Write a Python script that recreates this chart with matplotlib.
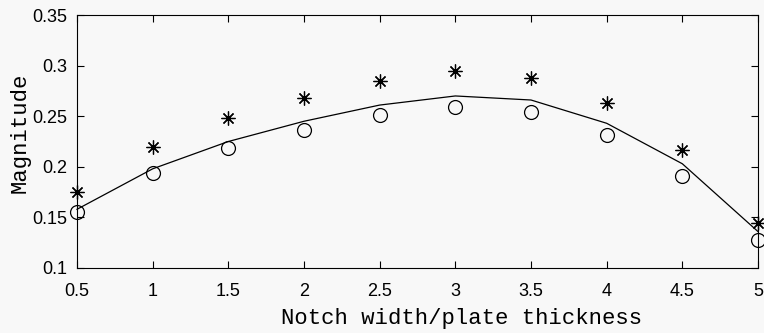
import numpy as np
import matplotlib
matplotlib.use("Agg")
import matplotlib.pyplot as plt

# ratio of notch width to plate thickness
ratio = [0.5, 1.0, 1.5, 2.0, 2.5, 3.0, 3.5, 4.0, 4.5, 5.0]

# three series
star_vals = [0.175, 0.220, 0.248, 0.268, 0.285, 0.295, 0.288, 0.263, 0.217, 0.144]
circle_vals = [0.155, 0.194, 0.219, 0.236, 0.251, 0.259, 0.254, 0.231, 0.191, 0.128]
line_vals = [0.158, 0.198, 0.225, 0.245, 0.261, 0.270, 0.266, 0.243, 0.203, 0.136]

xticks = [0.5, 1, 1.5, 2, 2.5, 3, 3.5, 4, 4.5, 5]
xtick_labels = ["0.5", "1", "1.5", "2", "2.5", "3", "3.5", "4", "4.5", "5"]
yticks = [0.1, 0.15, 0.2, 0.25, 0.3, 0.35]
ytick_labels = ["0.1", "0.15", "0.2", "0.25", "0.3", "0.35"]

bg = "#f8f8f8"
fig = plt.figure(figsize=(7.64, 3.33), dpi=100, facecolor=bg)
ax = fig.add_axes([77 / 764, 1 - 268 / 333, (758 - 77) / 764, (268 - 15) / 333])
ax.set_facecolor(bg)

ax.plot(ratio, line_vals, color="black", lw=0.9, clip_on=False)
ax.plot(ratio, star_vals, ls="none", marker=(8, 2, 0), ms=10, mec="black",
        mew=0.9, clip_on=False)
ax.plot(ratio, circle_vals, ls="none", marker="o", ms=10, mfc="none",
        mec="black", mew=0.9, clip_on=False)

ax.set_xlim(0.5, 5)
ax.set_ylim(0.1, 0.35)
ax.set_xticks(xticks)
ax.set_xticklabels(xtick_labels)
ax.set_yticks(yticks)
ax.set_yticklabels(ytick_labels)

ax.tick_params(direction="in", top=True, right=True, length=5, width=0.8,
               labelsize=13)
ax.tick_params(axis="x", pad=11)
ax.tick_params(axis="y", pad=7)
for lbl in ax.get_xticklabels() + ax.get_yticklabels():
    lbl.set_fontfamily("Liberation Sans")
for s in ax.spines.values():
    s.set_linewidth(0.8)

ax.set_xlabel("Notch width/plate thickness", fontsize=16,
              fontfamily="Liberation Mono")
ax.xaxis.set_label_coords(0.565, -0.158)
ax.set_ylabel("Magnitude", fontsize=16, fontfamily="Liberation Mono")
ax.yaxis.set_label_coords(-0.068, 0.535)

fig.savefig("out.png", dpi=100, facecolor=bg)
